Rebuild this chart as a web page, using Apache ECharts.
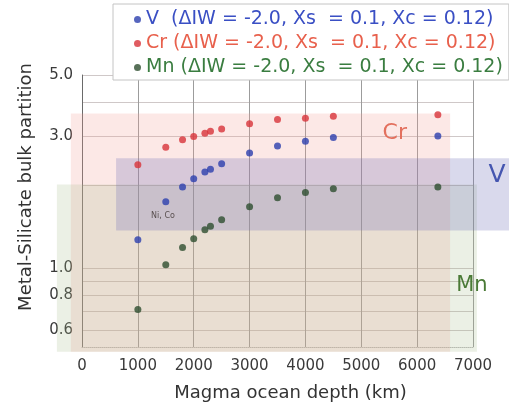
<!DOCTYPE html>
<html>
<head>
<meta charset="utf-8">
<title>Metal-silicate bulk partition</title>
<script src="https://cdn.jsdelivr.net/npm/echarts@6/dist/echarts.min.js"></script>
<style>
  html, body { margin: 0; padding: 0; background: #fff; }
  #chart { width: 509px; height: 413px; }
</style>
</head>
<body>
<div id="chart"></div>
<script>
  // magma ocean depth (km), last one is the whole mantle (6371)
  var depths   = [1000, 1500, 1800, 2000, 2200, 2300, 2500, 3000, 3500, 4000, 4500, 6371];
  var vValues  = [1.27, 1.74, 1.97, 2.11, 2.23, 2.28, 2.39, 2.61, 2.77, 2.88, 2.97, 3.01];
  var crValues = [2.37, 2.74, 2.92, 3.00, 3.08, 3.13, 3.19, 3.33, 3.45, 3.49, 3.55, 3.59];
  var mnValues = [0.71, 1.03, 1.19, 1.28, 1.38, 1.42, 1.50, 1.67, 1.80, 1.88, 1.94, 1.97];

  var yLabelValues = [0.6, 0.8, 1.0, 3.0, 5.0];
  var yGridValues = [0.6, 0.7, 0.8, 0.9, 1, 2, 3, 4, 5];

  // observed ranges: [depth from, depth to, partition from, partition to]
  var crBand = [-200, 6590, 0.5, 3.63];
  var mnBand = [-450, 7070, 0.5, 2.01];
  var vBand  = [610, 7800, 1.37, 2.50];

  // annotations: [text, depth, partition]
  var notes = [['Cr', 5600, 3.07], ['V', 7430, 2.17], ['Mn', 6980, 0.87], ['Ni, Co', 1450, 1.55]];

  var legendTail = ' (ΔIW = -2.0, Xs  = 0.1, Xc = 0.12)';
  var names = ['V ' + legendTail, 'Cr' + legendTail, 'Mn' + legendTail];

  var bandColors = ['rgba(244,160,150,0.24)', 'rgba(165,188,135,0.22)', 'rgba(110,110,180,0.26)'];
  var noteStyles = [
    { fill: '#e3705e', font: '22px "DejaVu Sans"' },
    { fill: '#4556b0', font: '25px "DejaVu Sans"' },
    { fill: '#4a7a36', font: '21px "DejaVu Sans"' },
    { fill: '#5a5050', font: '8px "DejaVu Sans"' }
  ];

  function pairs(ys) {
    return depths.map(function (d, i) { return [d, ys[i]]; });
  }

  var chart = echarts.init(document.getElementById('chart'));
  chart.setOption({
    animation: false,
    textStyle: { fontFamily: 'DejaVu Sans' },
    grid: { left: 82, right: 36, top: 75, bottom: 66 },
    legend: {
      orient: 'vertical',
      left: 113,
      top: 4,
      padding: [6, 6, 3, 21],
      itemGap: 5,
      itemWidth: 7,
      itemHeight: 7,
      icon: 'circle',
      backgroundColor: '#fff',
      borderColor: '#c4c4c4',
      borderWidth: 1,
      textStyle: { fontSize: 19, fontFamily: 'DejaVu Sans' },
      data: [
        { name: names[0], textStyle: { color: '#3a4fc4' } },
        { name: names[1], textStyle: { color: '#e8604c' } },
        { name: names[2], textStyle: { color: '#3a7d40' } }
      ]
    },
    xAxis: {
      type: 'value',
      min: 0,
      max: 7000,
      interval: 1000,
      name: 'Magma ocean depth (km)',
      nameLocation: 'middle',
      nameGap: 37,
      nameTextStyle: { fontSize: 18, color: '#333', padding: [0, 0, 0, 26] },
      axisLine: { lineStyle: { color: '#bbb', type: 'dotted' } },
      axisTick: { show: false },
      axisLabel: { fontSize: 15, color: '#3a3a3a', margin: 12,
        formatter: function (v) { return String(v); } },
      splitLine: { lineStyle: { color: '#9c9c9c', width: 1 } }
    },
    yAxis: {
      type: 'log',
      min: 0.52,
      max: 5,
      name: 'Metal-Silicate bulk partition',
      nameLocation: 'middle',
      nameGap: 47,
      nameTextStyle: { fontSize: 18, color: '#333', padding: [0, 0, 0, 48] },
      axisLine: { show: true, lineStyle: { color: '#6a6a6a' } },
      axisTick: { show: false, customValues: yGridValues },
      axisLabel: {
        fontSize: 15, color: '#3a3a3a', margin: 9,
        padding: [0, 0, 8, 0],
        customValues: yLabelValues,
        formatter: function (v) { return v.toFixed(1); }
      },
      splitLine: { show: true, lineStyle: { color: '#cfc8c8', width: 1 } }
    },
    series: [
      {
        type: 'custom',
        name: 'bands',
        clip: false,
        silent: true,
        z: 1,
        data: [crBand, mnBand, vBand],
        renderItem: function (params, api) {
          var p0 = api.coord([api.value(0), api.value(3)]);
          var p1 = api.coord([api.value(1), api.value(2)]);
          return {
            type: 'rect',
            shape: { x: p0[0], y: p0[1], width: p1[0] - p0[0], height: p1[1] - p0[1] },
            style: { fill: bandColors[params.dataIndex] }
          };
        }
      },
      {
        type: 'custom',
        name: 'notes',
        clip: false,
        silent: true,
        z: 3,
        data: notes.map(function (n) { return [n[1], n[2]]; }),
        renderItem: function (params, api) {
          var p = api.coord([api.value(0), api.value(1)]);
          var s = noteStyles[params.dataIndex];
          return {
            type: 'text',
            x: p[0],
            y: p[1],
            style: { text: notes[params.dataIndex][0], fill: s.fill, font: s.font,
              align: 'center', verticalAlign: 'middle' }
          };
        }
      },
      {
        type: 'scatter', name: names[0], data: pairs(vValues),
        symbolSize: 7, z: 4, itemStyle: { color: '#2c3fae' }
      },
      {
        type: 'scatter', name: names[1], data: pairs(crValues),
        symbolSize: 7, z: 4, itemStyle: { color: '#d8333a' }
      },
      {
        type: 'scatter', name: names[2], data: pairs(mnValues),
        symbolSize: 7, z: 4, itemStyle: { color: '#2e4d30' }
      }
    ]
  });
</script>
</body>
</html>
